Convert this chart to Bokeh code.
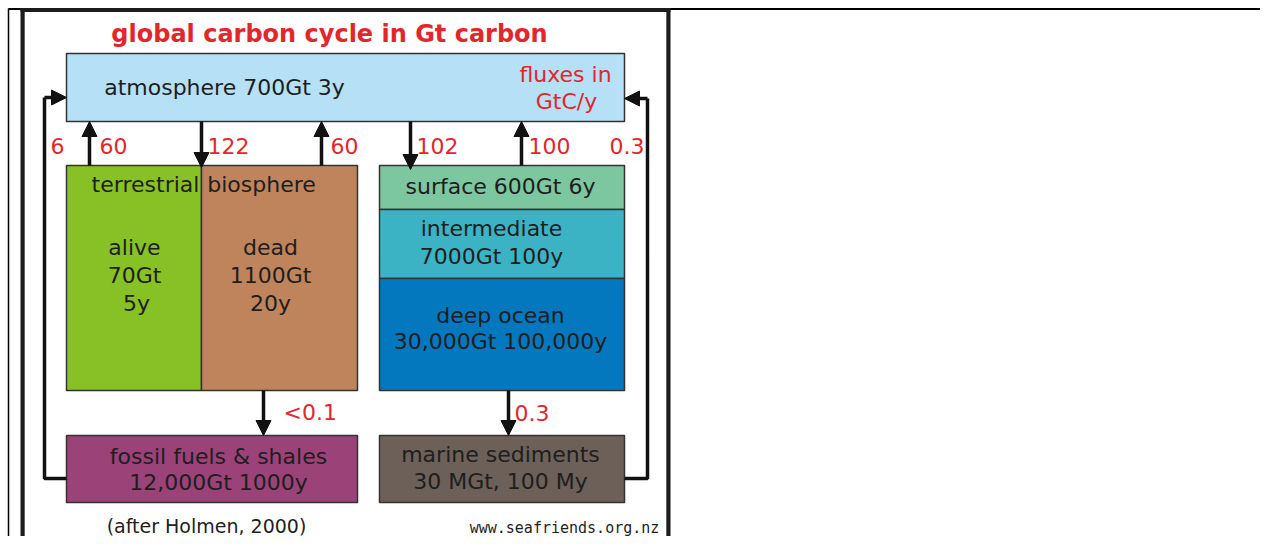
from bokeh.plotting import figure
from bokeh.models import Range1d, Arrow, NormalHead, ColumnDataSource
from bokeh.core.properties import value
from bokeh.embed import file_html
from bokeh.resources import INLINE

# ---------------- data ----------------
title_text = "global carbon cycle in Gt carbon"
reservoir_names = ["atmosphere", "alive", "dead", "surface", "intermediate",
                   "deep ocean", "fossil", "marine"]
reservoir_colors = ["#b5e0f6", "#87c126", "#bf845c", "#7cc6a0", "#3bb3c5",
                    "#0378bf", "#9b4279", "#6d6058"]
reservoir_labels = [
    ["atmosphere 700Gt 3y"],
    ["alive", "70Gt", "5y"],
    ["dead", "1100Gt", "20y"],
    ["surface 600Gt 6y"],
    ["intermediate", "7000Gt 100y"],
    ["deep ocean", "30,000Gt 100,000y"],
    ["fossil fuels & shales", "12,000Gt 1000y"],
    ["marine sediments", "30 MGt, 100 My"],
]
flux_labels = ["6", "60", "122", "60", "102", "100", "0.3", "<0.1", "0.3"]
units_label = ["fluxes in", "GtC/y"]
group_label = ["terrestrial", "biosphere"]
credit_text = "(after Holmen, 2000)"
url_text = "www.seafriends.org.nz"

# ---------------- layout (pixels) ----------------
# boxes: left, right, top, bottom
box_geom = [
    (66, 624, 53, 121),
    (66, 201, 165, 390),
    (201, 357, 165, 390),
    (379, 624, 165, 209),
    (379, 624, 209, 278),
    (379, 624, 278, 390),
    (66, 357, 435, 502),
    (379, 624, 435, 502),
]
label_pos = [
    [(224, 87)],
    [(134, 247), (134, 275), (136, 303)],
    [(270, 247), (270, 275), (270, 303)],
    [(500, 186)],
    [(491, 228), (491, 256)],
    [(500, 315), (500, 341)],
    [(218, 456), (218, 482)],
    [(500, 454), (500, 481)],
]
flux_pos = [(50, 145), (99, 145), (207, 145), (330, 145), (416, 145),
            (528, 145), (609, 145), (283, 412), (514, 412)]

FONT = value("DejaVu Sans")
DARK = "#1e1e1e"
RED = "#e3262b"

p = figure(width=1260, height=536, x_range=Range1d(0, 1260),
           y_range=Range1d(536, 0), output_backend="svg",
           toolbar_location=None, min_border=0)
p.axis.visible = False
p.grid.visible = False
p.outline_line_color = None
p.background_fill_color = "white"
p.border_fill_color = "white"

# page/table frame
p.segment(x0=[8], y0=[8.5], x1=[1268], y1=[8.5], line_color="black", line_width=2)
p.segment(x0=[8], y0=[8], x1=[8], y1=[544], line_color="black", line_width=1.5)
p.quad(left=[24], right=[666], top=[11], bottom=[543], fill_color="white",
       line_color="#b0b0b0", line_width=1)
p.segment(x0=[22, 668, 20], y0=[8, 8, 9.5], x1=[22, 668, 670], y1=[544, 544, 9.5],
          line_color="#1c1c1c", line_width=4)

# reservoirs
src = ColumnDataSource(dict(
    left=[g[0] for g in box_geom], right=[g[1] for g in box_geom],
    top=[g[2] for g in box_geom], bottom=[g[3] for g in box_geom],
    color=reservoir_colors))
p.quad(left="left", right="right", top="top", bottom="bottom", source=src,
       fill_color="color", line_color="#333333", line_width=1.5)

# reservoir labels
tx, ty, tt = [], [], []
for labels, poss in zip(reservoir_labels, label_pos):
    for t, (x, y) in zip(labels, poss):
        tx.append(x); ty.append(y); tt.append(t)
tx += [145, 261]; ty += [184, 184]; tt += group_label
p.text(x=tx, y=ty, text=tt, text_align="center", text_baseline="middle",
       text_font=FONT, text_font_size="22px", text_color=DARK)

# title
p.text(x=[329], y=[33], text=[title_text], text_align="center",
       text_baseline="middle", text_font=FONT, text_font_size="24px",
       text_font_style="bold", text_color=RED)

# unit label
p.text(x=[565, 566], y=[74, 101], text=units_label, text_align="center",
       text_baseline="middle", text_font=FONT, text_font_size="22px",
       text_color=RED)

# flux labels
p.text(x=[q[0] for q in flux_pos], y=[q[1] for q in flux_pos], text=flux_labels,
       text_align="left", text_baseline="middle", text_font=FONT,
       text_font_size="22px", text_color=RED)

# credits
p.text(x=[206], y=[525], text=[credit_text], text_align="center",
       text_baseline="middle", text_font=FONT, text_font_size="19px",
       text_color=DARK)
p.text(x=[564], y=[527], text=[url_text], text_align="center",
       text_baseline="middle", text_font=value("DejaVu Sans Mono"),
       text_font_size="15px", text_color=DARK)

# loops
p.line(x=[66, 44, 44], y=[478, 478, 97], line_color="#111111", line_width=3.5)
p.line(x=[624, 647, 647], y=[478, 478, 98], line_color="#111111", line_width=3.5)

# arrows (start -> end)
arrows = [
    (44, 97, 66, 97), (647, 98, 624, 98),
    (89, 165, 89, 121), (201, 121, 201, 167), (321, 165, 321, 121),
    (410, 121, 410, 169), (521, 165, 521, 121),
    (263, 390, 263, 435), (508, 390, 508, 435),
]
for x0, y0, x1, y1 in arrows:
    p.add_layout(Arrow(end=NormalHead(size=15, fill_color="#111111",
                                      line_color="#111111", line_width=1),
                       x_start=x0, y_start=y0, x_end=x1, y_end=y1,
                       line_color="#111111", line_width=3.5))

open("out.html", "w").write(file_html(p, INLINE))
